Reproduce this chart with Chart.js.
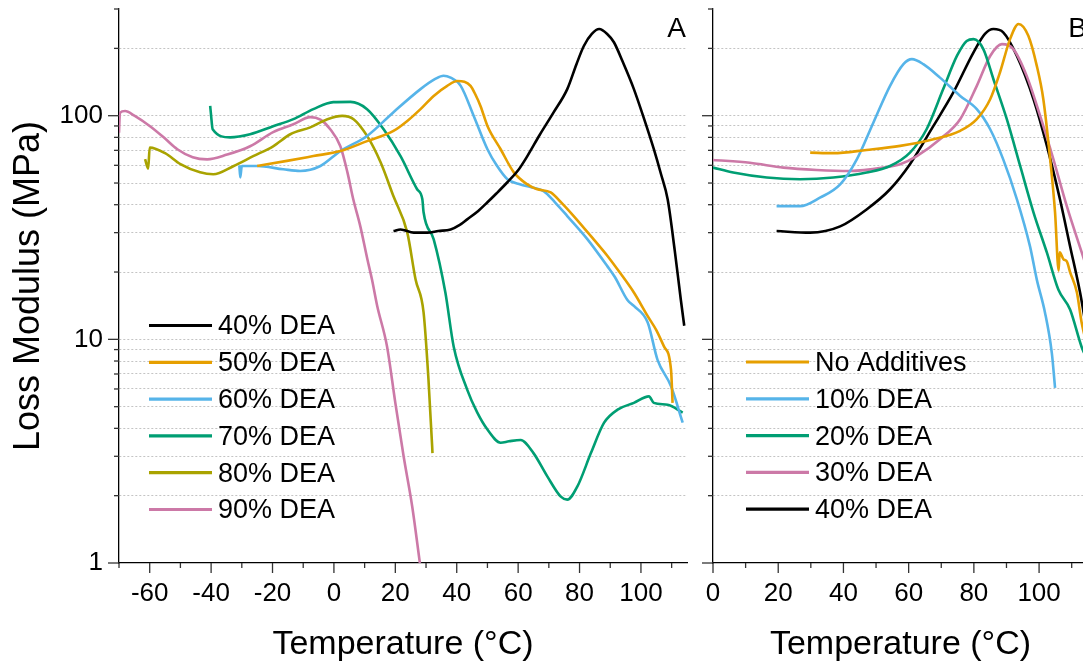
<!DOCTYPE html>
<html>
<head>
<meta charset="utf-8">
<script src="https://cdn.jsdelivr.net/npm/chart.js@4.4.1/dist/chart.umd.min.js"></script>
<style>
  body { margin: 0; overflow: hidden; background: #fff; }
  #wrapA { position: absolute; left: 0; top: 0; }
  #wrapB { position: absolute; left: 690px; top: 0; }
</style>
</head>
<body>
<div id="wrapA"><canvas id="chartA" width="700" height="667"></canvas></div>
<div id="wrapB"><canvas id="chartB" width="410" height="667"></canvas></div>
<script>
// ticks
const xTicksA = [-70, -60, -50, -40, -30, -20, -10, 0, 10, 20, 30, 40, 50, 60, 70, 80, 90, 100, 110];
const xLabelsA = [-60, -40, -20, 0, 20, 40, 60, 80, 100];
const xTicksB = [0, 10, 20, 30, 40, 50, 60, 70, 80, 90, 100, 110];
const xLabelsB = [0, 20, 40, 60, 80, 100];
const yTicks = [1, 2, 3, 4, 5, 6, 7, 8, 9, 10, 20, 30, 40, 50, 60, 70, 80, 90, 100, 200, 300];
const yLabels = [1, 10, 100];

// panel A: temperature (°C) / loss modulus (MPa)
const tA40 = [19.4, 21.7, 26, 30.4, 34, 38, 41, 43.4, 47, 50, 53, 56.5, 60, 63, 67, 71.6, 76, 79, 81.4, 84, 86.4, 89, 91.2, 94, 97.7, 101, 104.2, 106.5, 108.7, 111, 113, 114.1];
const mA40 = [30.5, 31, 30, 30, 30.5, 31, 32.5, 34.4, 37.5, 41, 45, 50.4, 57, 66, 82, 103.7, 131.5, 170, 205, 232, 244, 232, 213, 175, 131.5, 97, 70.8, 55, 42.3, 25, 15, 11.5];
const tA50 = [-25, -15.3, -6.7, 2.1, 10.8, 19.4, 24, 28.2, 32.5, 36.9, 40.2, 42.5, 44.5, 46, 47.8, 50, 54.3, 58.6, 63, 66, 70.6, 74, 78.1, 84.6, 89.1, 93, 97.7, 102.2, 105, 107.5, 109.8, 110.3];
const mA50 = [59.6, 62.8, 66, 69.5, 77, 85.5, 95, 107, 122.6, 136, 143, 142, 136, 125, 110, 90, 70.8, 55.8, 49.3, 47, 45.4, 41, 35.6, 28, 23.6, 20, 16.2, 12.7, 11, 9.3, 7.3, 5.2];
const tA60 = [-30.8, -30.5, -30, -25, -16.5, -11, -4.4, 2.1, 10.8, 19.4, 28.2, 33, 35.7, 38, 41.3, 45.5, 50, 53, 56.5, 60.8, 64, 68.3, 72, 76, 82.6, 89.1, 91.5, 95.6, 97.7, 102.2, 105.4, 109.8, 113.6];
const mA60 = [60, 53, 59.6, 59.6, 57.6, 56.6, 59.6, 69.5, 81.2, 103.7, 131.5, 146, 151, 148, 136, 100, 70.8, 60, 52, 49.3, 48, 46, 41, 35.6, 28, 21.2, 19, 15, 14.1, 11.9, 8.1, 6.17, 4.24];
const tA70 = [-40.3, -40, -39.5, -33.8, -27.3, -19.8, -13.2, -6.7, -0.2, 5.4, 10.8, 16.2, 21.7, 27.1, 28.8, 29.2, 32.5, 36.3, 39, 43.4, 46.7, 50, 54.3, 57, 60.8, 65, 69.5, 73.9, 76, 79.3, 83.7, 88, 92.4, 97.7, 102.6, 104.2, 108.7, 113.6];
const mA70 = [110.6, 100, 87, 80, 82.6, 89.7, 96.5, 107, 115, 115.3, 107, 87, 65.9, 46.9, 42.3, 37, 28, 16.2, 9.3, 5.96, 4.7, 3.95, 3.45, 3.5, 3.55, 3.1, 2.44, 1.98, 1.92, 2.2, 3.1, 4.24, 4.85, 5.2, 5.56, 5.2, 5.1, 4.7];
const tA80 = [-61.5, -60.5, -60, -55, -50, -43.6, -39.3, -32.8, -26.3, -19.8, -14.2, -7.7, -2.1, 2.7, 6.4, 10.8, 15.2, 19.4, 23.9, 26.6, 29.2, 30.8, 32, 32.1];
const mA80 = [64, 58, 72, 68, 60.7, 55.8, 54.7, 59.4, 65.9, 73, 82.6, 88.7, 96.5, 99.8, 96.5, 81.2, 61.9, 43.6, 30, 18.5, 13.2, 6.6, 3.32, 3.1];
const tA90 = [-70, -69.7, -68, -65, -59.9, -55, -51, -46, -41.3, -34.8, -27.3, -19.8, -13.2, -7.7, -4.4, -1.2, 2.1, 4.4, 6.3, 8.6, 10.9, 12.4, 14.1, 17.3, 20, 22.7, 25.5, 28];
const mA90 = [84, 103, 105, 100, 89.7, 79, 70.8, 65.2, 63.8, 67, 73, 84.4, 91.6, 98.5, 96, 87, 73, 55.8, 42.3, 32, 22.8, 18.5, 14.1, 9.3, 5.2, 3.0, 1.79, 1.0];

// panel B
const tB0 = [29.8, 36.9, 47.1, 57.4, 67.6, 75.8, 80.9, 85, 88, 91.1, 93.7, 96.7, 99.3, 101.3, 103.4, 104.9, 106, 106.3, 107.5, 108.5, 109.5, 111.6, 113, 115];
const mB0 = [68.4, 68, 70.3, 73.3, 78.5, 85.6, 96.5, 118.5, 156, 220, 257, 227.6, 167, 118.5, 63.8, 36.9, 20.3, 24.5, 22.8, 22.3, 20, 16.2, 12, 9];
const tB10 = [19.5, 26.7, 32.8, 39, 44.1, 49.2, 54.3, 58.4, 61, 64.5, 69.6, 75.8, 80.9, 85, 89, 93.2, 97.2, 99.3, 101.8, 103.9, 104.9];
const mB10 = [39.4, 39.4, 43, 49.3, 63.8, 93.3, 136, 170, 179, 170, 148, 122.6, 107, 87, 63.8, 42.3, 26.1, 18.5, 13.2, 8.7, 6.07];
const tB20 = [0, 6.2, 16.5, 26.7, 36.9, 47.1, 54.3, 60.4, 65.5, 70.6, 74.8, 77.8, 79.9, 82.9, 86, 90.1, 94.2, 98.3, 102.4, 105.9, 109.5, 113.1, 115];
const mB20 = [58.6, 55.7, 52.9, 52, 52.9, 55.7, 59.6, 68.4, 87, 131.5, 185, 216, 220, 198.6, 145.6, 96.5, 59.6, 36.9, 24.4, 16.7, 13.6, 9.2, 8];
const tB30 = [0, 11.3, 21.6, 31.8, 42, 52.2, 57.4, 62.5, 69.6, 75.8, 80.9, 85, 88.6, 92.1, 96.2, 100.3, 104.4, 108.5, 113.1, 115];
const mB30 = [63.4, 61.6, 58.6, 57.2, 56.6, 58.6, 60.7, 66, 78.5, 96.5, 136, 185, 209, 198.6, 150.7, 100, 63.8, 39.4, 24.4, 20];
const tB40 = [19.5, 29.8, 39, 47.1, 54.3, 60.4, 67.6, 73.7, 79.9, 83.4, 86, 89, 93.2, 98.3, 102.4, 106.4, 109.5, 112.6, 115];
const mB40 = [30.5, 30, 32, 38.1, 46.9, 60.7, 90, 127, 192, 232, 244, 236, 185, 118.5, 73.3, 42.3, 26.1, 16.1, 10];

const BLACK = '#000000', ORANGE = '#E69F00', BLUE = '#56B4E9', GREEN = '#009E73', OLIVE = '#A9A300', PINK = '#CC79A7';
const FONT = '"Liberation Sans", Arial, sans-serif';
Chart.defaults.font.family = FONT;
Chart.defaults.color = '#000';

function series(label, xs, ys, color) {
  return {
    label: label,
    data: xs.map((x, i) => ({ x: x, y: ys[i] })),
    borderColor: color,
    backgroundColor: color,
    borderWidth: 2.6,
    pointRadius: 0,
    fill: false,
    cubicInterpolationMode: 'monotone'
  };
}

// tick marks: long for labelled values, short for the rest
const tickMarks = {
  id: 'tickMarks',
  afterDraw(chart, args, opts) {
    const ctx = chart.ctx, xs = chart.scales.x, ys = chart.scales.y;
    ctx.save();
    ctx.strokeStyle = '#333';
    ctx.lineWidth = 1.3;
    xs.ticks.forEach(t => {
      const px = xs.getPixelForValue(t.value);
      const len = opts.xLabels.includes(t.value) ? 10 : 5;
      ctx.beginPath(); ctx.moveTo(px, xs.top); ctx.lineTo(px, xs.top + len); ctx.stroke();
    });
    ys.ticks.forEach(t => {
      const py = ys.getPixelForValue(t.value);
      const len = yLabels.includes(t.value) ? 11 : 5;
      ctx.beginPath(); ctx.moveTo(ys.right, py); ctx.lineTo(ys.right - len, py); ctx.stroke();
    });
    ctx.restore();
  }
};

const inLegend = {
  id: 'inLegend',
  afterDraw(chart, args, opts) {
    const ctx = chart.ctx;
    ctx.save();
    ctx.font = '27px ' + FONT;
    ctx.textBaseline = 'middle';
    ctx.fillStyle = '#000';
    chart.data.datasets.forEach((ds, i) => {
      const y = opts.y + i * 36.8;
      ctx.strokeStyle = ds.borderColor;
      ctx.lineWidth = 3.2;
      ctx.beginPath(); ctx.moveTo(opts.x, y); ctx.lineTo(opts.x + 63, y); ctx.stroke();
      ctx.fillText(ds.label, opts.x + 69, y + 1.5);
    });
    ctx.restore();
  }
};

const panelTag = {
  id: 'panelTag',
  afterDraw(chart, args, opts) {
    const ctx = chart.ctx;
    ctx.save();
    ctx.font = '28px ' + FONT;
    ctx.textAlign = 'right';
    ctx.fillStyle = '#000';
    ctx.fillText(opts.text, chart.chartArea.right - 1, 37);
    ctx.restore();
  }
};

function makeOptions(cfg) {
  return {
    responsive: false,
    animation: false,
    layout: { padding: { top: 9, right: cfg.padRight, bottom: 0, left: 0 } },
    plugins: {
      legend: { display: false },
      tooltip: { enabled: false },
      tickMarks: { xLabels: cfg.xLabels },
      inLegend: { x: cfg.legendX, y: cfg.legendY },
      panelTag: { text: cfg.tag }
    },
    scales: {
      x: {
        type: 'linear',
        min: cfg.xMin,
        max: cfg.xMax,
        afterBuildTicks: s => { s.ticks = cfg.xTicks.map(v => ({ value: v })); },
        afterFit: s => { s.height = 104; s.paddingLeft = 0; s.paddingRight = 0; },
        grid: { display: false, drawTicks: false },
        border: { color: '#000', width: 1.3 },
        ticks: {
          autoSkip: false, maxRotation: 0, padding: 15, color: '#000', font: { size: 26 },
          callback: v => cfg.xLabels.includes(v) ? String(v) : ''
        },
        title: { display: true, text: 'Temperature (°C)', color: '#000', font: { size: 34 }, padding: { top: 0, bottom: 2 } }
      },
      y: {
        type: 'logarithmic',
        min: 1,
        max: 300,
        afterBuildTicks: s => { s.ticks = yTicks.map(v => ({ value: v })); },
        afterFit: s => { s.width = cfg.yWidth; s.paddingTop = 0; s.paddingBottom = 0; },
        grid: {
          drawTicks: false,
          lineWidth: 1,
          color: c => (c.tick && (c.tick.value === 300 || c.tick.value === 1)) ? 'rgba(0,0,0,0)' : '#c4c4c4'
        },
        border: { color: '#000', width: 1.3, dash: [2, 2] },
        ticks: {
          display: cfg.showY, autoSkip: false, padding: 16, color: '#000', font: { size: 26 },
          callback: v => yLabels.includes(v) ? String(v) : ''
        },
        title: { display: cfg.showY, text: 'Loss Modulus (MPa)', color: '#000', font: { size: 36 }, padding: { top: 7, bottom: 0 } }
      }
    }
  };
}

new Chart(document.getElementById('chartA'), {
  type: 'line',
  data: {
    datasets: [
      series('40% DEA', tA40, mA40, BLACK),
      series('50% DEA', tA50, mA50, ORANGE),
      series('60% DEA', tA60, mA60, BLUE),
      series('70% DEA', tA70, mA70, GREEN),
      series('80% DEA', tA80, mA80, OLIVE),
      series('90% DEA', tA90, mA90, PINK)
    ]
  },
  options: makeOptions({
    xMin: -70, xMax: 115, xTicks: xTicksA, xLabels: xLabelsA,
    yWidth: 119, padRight: 13, showY: true, tag: 'A', legendX: 149, legendY: 325.5
  }),
  plugins: [tickMarks, inLegend, panelTag]
});

new Chart(document.getElementById('chartB'), {
  type: 'line',
  data: {
    datasets: [
      series('No Additives', tB0, mB0, ORANGE),
      series('10% DEA', tB10, mB10, BLUE),
      series('20% DEA', tB20, mB20, GREEN),
      series('30% DEA', tB30, mB30, PINK),
      series('40% DEA', tB40, mB40, BLACK)
    ]
  },
  options: makeOptions({
    xMin: 0, xMax: 115, xTicks: xTicksB, xLabels: xLabelsB,
    yWidth: 23, padRight: 12, showY: false, tag: 'B', legendX: 56, legendY: 362
  }),
  plugins: [tickMarks, inLegend, panelTag]
});
</script>
</body>
</html>
